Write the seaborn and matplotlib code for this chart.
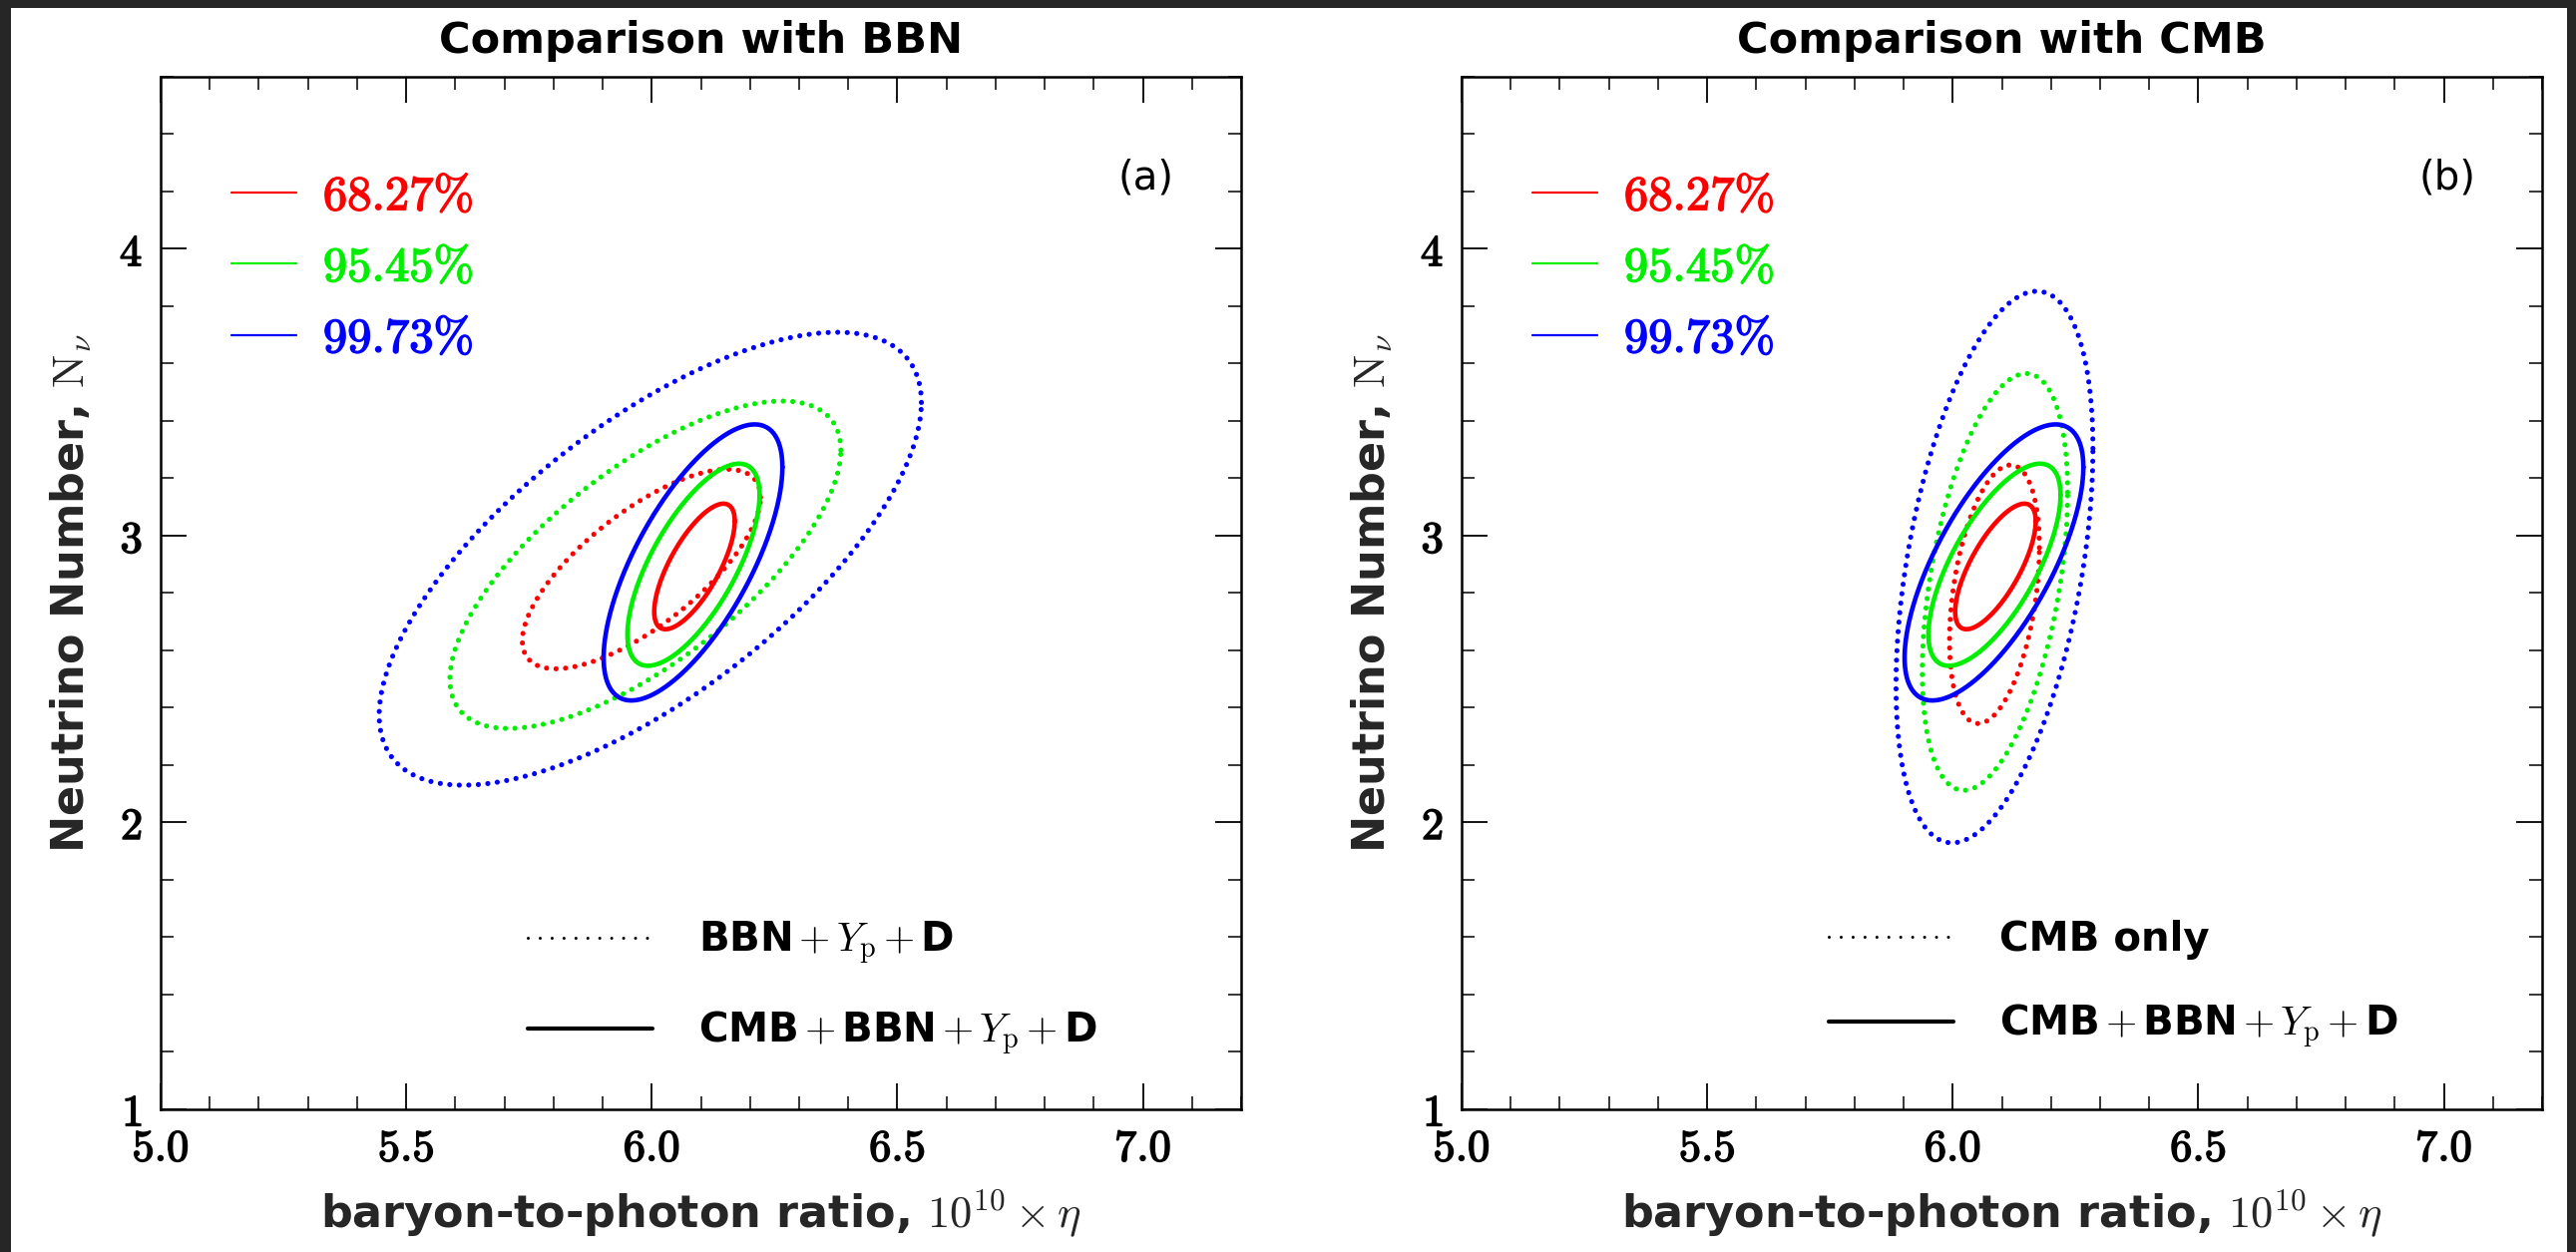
import numpy as np
import pandas as pd
import matplotlib
matplotlib.use("Agg")
import matplotlib.pyplot as plt
import matplotlib.patheffects as pe
import seaborn as sns
from matplotlib.lines import Line2D
from matplotlib.patches import Rectangle
from matplotlib.ticker import MultipleLocator

# ---------------- data ----------------
cl_labels = ["68.27%", "95.45%", "99.73%"]
cl_colors = ["#ff0000", "#00ee00", "#0000ff"]

x_ticks = [5.0, 5.5, 6.0, 6.5, 7.0]
x_tick_labels = ["5.0", "5.5", "6.0", "6.5", "7.0"]
y_ticks = [1, 2, 3, 4]
y_tick_labels = ["1", "2", "3", "4"]

# contour extents (centre, half-width in eta, half-height in N_nu, correlation) for 68/95/99.73 %
bbn_cx = [5.979, 5.987, 5.997]
bbn_cy = [2.883, 2.898, 2.919]
bbn_ax = [0.2425, 0.398, 0.552]
bbn_ay = [0.348, 0.571, 0.790]
bbn_rho = [0.72, 0.70, 0.69]

comb_cx = [6.087, 6.085, 6.084]
comb_cy = [2.892, 2.898, 2.906]
comb_ax = [0.082, 0.1345, 0.182]
comb_ay = [0.219, 0.3525, 0.4815]
comb_rho = [0.72, 0.69, 0.69]

cmb_cx = [6.085, 6.086, 6.085]
cmb_cy = [2.795, 2.838, 2.890]
cmb_ax = [0.0915, 0.148, 0.2005]
cmb_ay = [0.451, 0.727, 0.962]
cmb_rho = [0.36, 0.43, 0.43]

titles = ["Comparison with BBN", "Comparison with CMB"]
panel_tags = ["(a)", "(b)"]
dotted_names = ["BBN$\\,{+}\\,Y_\\mathrm{p}\\,{+}\\,$D", "CMB only"]
solid_name = "CMB$\\,{+}\\,$BBN$\\,{+}\\,Y_\\mathrm{p}\\,{+}\\,$D"

# ---------------- style ----------------
sns.set_theme(style="ticks")
plt.rcParams["font.family"] = ["DejaVu Sans"]
plt.rcParams["mathtext.fontset"] = "cm"
plt.rcParams["text.color"] = "black"
plt.rcParams["axes.edgecolor"] = "black"
plt.rcParams["xtick.color"] = "black"
plt.rcParams["ytick.color"] = "black"

W, H = 2582, 1255
fig = plt.figure(figsize=(W / 100, H / 100), dpi=100)
fig.patch.set_facecolor("#262626")
fig.add_artist(Rectangle((11 / W, 0), (2573 - 11) / W, (H - 8) / H,
                         transform=fig.transFigure, facecolor="white",
                         edgecolor="none", zorder=-10))

ax_w = 1083 / W
ax_h = (1111.5 - 77) / H
ax_b = (H - 1111.5) / H
axes = [fig.add_axes([161 / W, ax_b, ax_w, ax_h]),
        fig.add_axes([1465 / W, ax_b, ax_w, ax_h])]

DOT = (0, (0.01, 1.85))


def ellipse(cx, cy, a, b, rho, n=720):
    t = np.linspace(0, 2 * np.pi, n)
    x = cx + a * np.cos(t)
    y = cy + rho * b * np.cos(t) + b * np.sqrt(1 - rho ** 2) * np.sin(t)
    return pd.DataFrame({"x": x, "y": y})


def draw_set(ax, cx, cy, a, b, rho, dotted):
    for i in range(3):
        df = ellipse(cx[i], cy[i], a[i], b[i], rho[i])
        if dotted:
            sns.lineplot(data=df, x="x", y="y", sort=False, estimator=None,
                         color=cl_colors[i], lw=3.7, linestyle=DOT,
                         dash_capstyle="round", ax=ax)
        else:
            sns.lineplot(data=df, x="x", y="y", sort=False, estimator=None,
                         color=cl_colors[i], lw=3.3, ax=ax)


dotted_sets = [(bbn_cx, bbn_cy, bbn_ax, bbn_ay, bbn_rho),
               (cmb_cx, cmb_cy, cmb_ax, cmb_ay, cmb_rho)]

for k, ax in enumerate(axes):
    draw_set(ax, *dotted_sets[k], dotted=True)
    draw_set(ax, comb_cx, comb_cy, comb_ax, comb_ay, comb_rho, dotted=False)

    ax.set_xlim(5.0, 7.2)
    ax.set_ylim(1.0, 4.6)
    ax.set_xticks(x_ticks, labels=[r"$\mathbf{%s}$" % s for s in x_tick_labels])
    ax.set_yticks(y_ticks, labels=[r"$\mathbf{%s}$" % s for s in y_tick_labels])
    ax.xaxis.set_minor_locator(MultipleLocator(0.1))
    ax.yaxis.set_minor_locator(MultipleLocator(0.2))
    ax.tick_params(which="both", direction="in", top=True, right=True,
                   labelsize=32)
    ax.tick_params(which="major", length=19, width=1.3, pad=13)
    ax.tick_params(which="minor", length=9.6, width=1.1)
    for lab in ax.get_xticklabels() + ax.get_yticklabels():
        lab.set_path_effects([pe.withStroke(linewidth=1.1, foreground="black")])
    for sp in ax.spines.values():
        sp.set_linewidth(1.8)
        sp.set_color("black")
        sp.set_visible(True)

    ax.set_xlabel(r"baryon-to-photon ratio, $10^{10}\times\eta$",
                  fontsize=32, fontweight="bold")
    ax.set_ylabel(r"Neutrino Number, $\mathrm{N}_\nu$",
                  fontsize=32, fontweight="bold")
    ax.xaxis.set_label_coords(0.5, -0.077)
    ax.yaxis.set_label_coords(-0.062, 0.5)
    ax.set_title(titles[k], fontsize=31, fontweight="bold", pad=17)
    ax.text(0.912, 0.902, panel_tags[k], transform=ax.transAxes,
            ha="center", va="center", fontsize=29)

    # confidence-level legend
    h1 = [Line2D([], [], color=c, lw=1.6) for c in cl_colors]
    lab1 = [r"$\mathbf{%s\%%}$" % s.rstrip("%") for s in cl_labels]
    leg1 = ax.legend(h1, lab1, loc="upper left", bbox_to_anchor=(0.066, 0.908),
                     frameon=False, fontsize=35, handlelength=1.33,
                     handletextpad=0.55, labelspacing=0.48, borderpad=0,
                     borderaxespad=0)
    for t, c in zip(leg1.get_texts(), cl_colors):
        t.set_color(c)
        t.set_path_effects([pe.withStroke(linewidth=1.1, foreground=c)])
    ax.add_artist(leg1)

    # data-set legend
    h2 = [Line2D([], [], color="black", lw=2.2, linestyle=(0, (0.01, 3.9)),
                 dash_capstyle="round"),
          Line2D([], [], color="black", lw=3.0)]
    ax.legend(h2, [dotted_names[k], solid_name], loc="upper left",
              bbox_to_anchor=(0.34, 0.183), frameon=False,
              prop={"size": 29, "weight": "bold"}, handlelength=3.1,
              handletextpad=1.15, labelspacing=1.05, borderpad=0,
              borderaxespad=0)

fig.savefig("out.png", dpi=100, facecolor=fig.get_facecolor())
